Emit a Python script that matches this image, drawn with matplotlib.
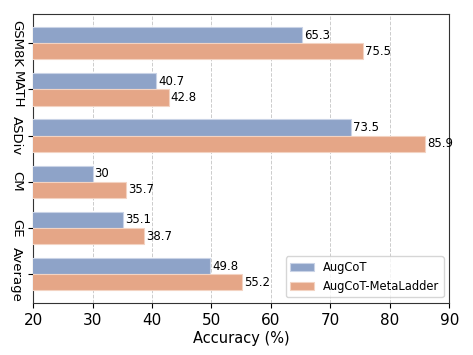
import matplotlib
matplotlib.use("Agg")
import matplotlib.pyplot as plt
import numpy as np

categories = ["GSM8K", "MATH", "ASDiv", "CM", "GE", "Average"]
augcot = [65.3, 40.7, 73.5, 30, 35.1, 49.8]
metaladder = [75.5, 42.8, 85.9, 35.7, 38.7, 55.2]
augcot_labels = ["65.3", "40.7", "73.5", "30", "35.1", "49.8"]
metaladder_labels = ["75.5", "42.8", "85.9", "35.7", "38.7", "55.2"]

fig, ax = plt.subplots(figsize=(4.73, 3.55), dpi=100)
fig.subplots_adjust(left=0.07, right=0.95, top=0.96, bottom=0.146)

y = np.arange(len(categories))
h = 0.35
b1 = ax.barh(y - h / 2, augcot, height=h, left=0, color="#8EA3C8",
             edgecolor="#c9d3e6", linewidth=0.8, label="AugCoT", zorder=3)
b2 = ax.barh(y + h / 2, metaladder, height=h, left=0, color="#E5A687",
             edgecolor="#f3d3c2", linewidth=0.8, label="AugCoT-MetaLadder", zorder=3)

for bar, lab in zip(b1, augcot_labels):
    ax.text(bar.get_width() + 0.3, bar.get_y() + bar.get_height() / 2, lab,
            va="center", ha="left", fontsize=8.5, zorder=4)
for bar, lab in zip(b2, metaladder_labels):
    ax.text(bar.get_width() + 0.3, bar.get_y() + bar.get_height() / 2, lab,
            va="center", ha="left", fontsize=8.5, zorder=4)

ax.set_yticks(y)
ax.set_yticklabels(categories, rotation=-90, va="center", fontsize=9.5)
ax.set_xlim(20, 90)
ax.set_ylim(len(categories) - 0.37, -0.63)
ax.tick_params(axis="x", labelsize=11)
ax.set_xlabel("Accuracy (%)", fontsize=10.5, labelpad=2)
ax.xaxis.grid(True, linestyle="--", color="#cccccc", linewidth=0.7, zorder=0)
for s in ax.spines.values():
    s.set_color("#333333")

ax.legend(loc="lower right", fontsize=8.3)

fig.savefig("out.png", dpi=100)
